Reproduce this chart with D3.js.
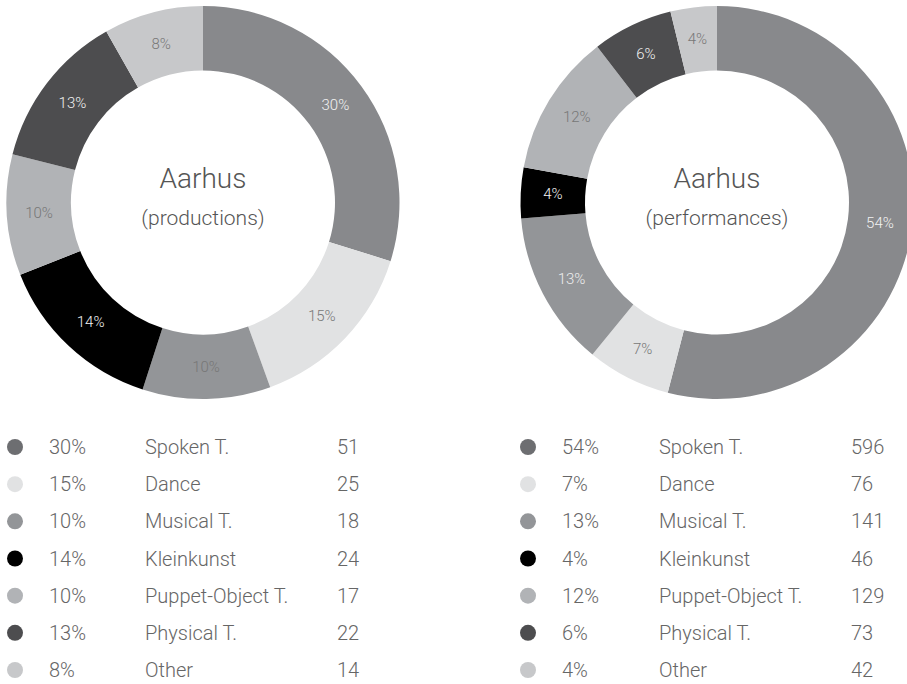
<!DOCTYPE html>
<html><head><meta charset="utf-8">
<script src="https://cdn.jsdelivr.net/npm/d3@7"></script>
<style>
html,body{margin:0;padding:0;background:#fff;}
svg{display:block;font-family:Roboto, "Open Sans", sans-serif;font-weight:300;}
</style></head>
<body>
<svg id="chart" width="907" height="684"></svg>
<script>
const categories = ["Spoken T.", "Dance", "Musical T.", "Kleinkunst", "Puppet-Object T.", "Physical T.", "Other"];
const productions = [51, 25, 18, 24, 17, 22, 14];
const performances = [596, 76, 141, 46, 129, 73, 42];
const productionsPct = [30, 15, 10, 14, 10, 13, 8];
const performancesPct = [54, 7, 13, 4, 12, 6, 4];
const titles = ["Aarhus", "Aarhus"];
const subtitles = ["(productions)", "(performances)"];
const sliceColors = ["#88898c", "#e1e2e3", "#939598", "#000000", "#b1b3b6", "#4d4d4f", "#c7c8ca"];
const dotColors = ["#6d6e71", "#e1e2e3", "#939598", "#000000", "#b1b3b6", "#4d4d4f", "#c7c8ca"];
const labelColorsProd = ["#f2f2f2", "#777", "#777", "#f2f2f2", "#777", "#f2f2f2", "#777"];
const labelColorsPerf = ["#f2f2f2", "#777", "#eeeeee", "#f2f2f2", "#777", "#f2f2f2", "#777"];

const svg = d3.select("#chart");
const outerR = 196.5, innerR = 132;
const pie = d3.pie().sort(null).value(d => d);
const arc = d3.arc().innerRadius(innerR).outerRadius(outerR);
const labelArc = d3.arc().innerRadius((innerR + outerR) / 2).outerRadius((innerR + outerR) / 2);

const panels = [
  {values: productions, pct: productionsPct, cx: 203, cy: 202.5, labelColors: labelColorsProd, title: titles[0], sub: subtitles[0],
   dotX: 15, pctX: 49, catX: 145, numX: 337},
  {values: performances, pct: performancesPct, cx: 717, cy: 202.5, labelColors: labelColorsPerf, title: titles[1], sub: subtitles[1],
   dotX: 528, pctX: 562, catX: 659, numX: 851}
];

const rowY = d3.scalePoint().domain(categories).range([447, 670]);

panels.forEach(p => {
  const arcs = pie(p.values);
  const g = svg.append("g").attr("transform", `translate(${p.cx},${p.cy})`);
  g.selectAll("path").data(arcs).join("path")
    .attr("d", arc)
    .attr("fill", (d, i) => sliceColors[i]);
  g.selectAll("text.lbl").data(arcs).join("text")
    .attr("class", "lbl")
    .attr("transform", d => `translate(${labelArc.centroid(d)})`)
    .attr("text-anchor", "middle")
    .attr("dominant-baseline", "central")
    .attr("font-size", 15)
    .attr("fill", (d, i) => p.labelColors[i])
    .text((d, i) => p.pct[i] + "%");
  g.append("text").attr("x", 0).attr("y", -24).attr("text-anchor", "middle")
    .attr("dominant-baseline", "central").attr("font-size", 28).attr("fill", "#555").text(p.title);
  g.append("text").attr("x", 0).attr("y", 15).attr("text-anchor", "middle")
    .attr("dominant-baseline", "central").attr("font-size", 21).attr("fill", "#555").text(p.sub);

  const lg = svg.append("g");
  const rows = lg.selectAll("g").data(categories).join("g")
    .attr("transform", c => `translate(0,${rowY(c)})`);
  rows.append("circle").attr("cx", p.dotX).attr("cy", 0).attr("r", 8)
    .attr("fill", (c, i) => dotColors[i]);
  rows.append("text").attr("x", p.pctX).attr("dominant-baseline", "central")
    .attr("font-size", 20).attr("fill", "#666").text((c, i) => p.pct[i] + "%");
  rows.append("text").attr("x", p.catX).attr("dominant-baseline", "central")
    .attr("font-size", 20).attr("fill", "#666").text(c => c);
  rows.append("text").attr("x", p.numX).attr("dominant-baseline", "central")
    .attr("font-size", 20).attr("fill", "#666").text((c, i) => p.values[i]);
});
</script>
</body></html>
